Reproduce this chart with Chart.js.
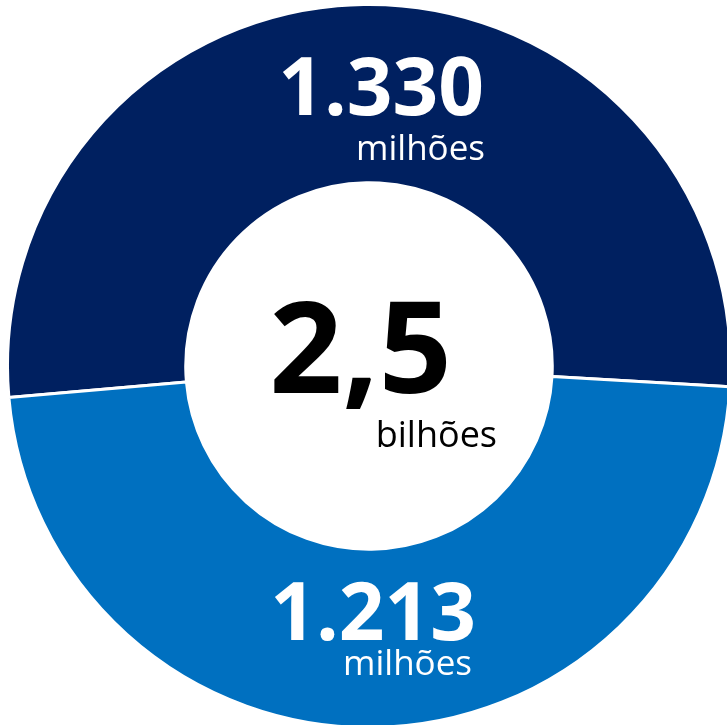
<!DOCTYPE html>
<html>
<head>
<meta charset="utf-8">
<script src="https://cdn.jsdelivr.net/npm/chart.js@4/dist/chart.umd.min.js"></script>
<style>
  html, body { margin: 0; padding: 0; background: #fff; overflow: hidden; width: 727px; height: 725px; }
  #wrap { position: absolute; left: 6px; top: 3px; width: 726px; height: 726px; }
</style>
</head>
<body>
<div id="wrap"><canvas id="graficoPopulacao"></canvas></div>
<script>
// valores em milhões
const categorias = ['Grupo A', 'Grupo B'];
const valores = [1330, 1213];
const cores = ['#002060', '#0070C0'];
const unidade = 'milhões';
const unidadeTotal = 'bilhões';

const formatarMil = v => String(v).replace(/\B(?=(\d{3})+(?!\d))/g, '.');
const total = valores.reduce((a, b) => a + b, 0);
const totalTexto = (total / 1000).toFixed(1).replace('.', ',');

// posições dos textos (coordenadas do canvas)
const rotulos = [
    { valor: [478, 112], unidade: [479, 157] },
    { valor: [470, 637], unidade: [466, 672] }
];

const textos = {
    id: 'textos',
    afterDraw(chart) {
        const c = chart.ctx;
        c.save();
        c.textAlign = 'right';
        c.textBaseline = 'alphabetic';
        c.fillStyle = '#fff';
        rotulos.forEach((r, i) => {
            c.font = 'bold 80px "Open Sans"';
            c.fillText(formatarMil(valores[i]), r.valor[0], r.valor[1]);
            c.font = '35px "Open Sans"';
            c.fillText(unidade, r.unidade[0], r.unidade[1]);
        });
        c.fillStyle = '#000';
        c.font = 'bold 128px "Open Sans"';
        c.fillText(totalTexto, 446, 390);
        c.font = '36px "Open Sans"';
        c.fillText(unidadeTotal, 491, 444);
        c.restore();
    }
};

new Chart(document.getElementById('graficoPopulacao'), {
    type: 'doughnut',
    data: {
        labels: categorias,
        datasets: [{
            data: valores,
            backgroundColor: cores,
            borderColor: '#fff',
            borderWidth: 3
        }]
    },
    options: {
        responsive: true,
        maintainAspectRatio: false,
        animation: false,
        rotation: -95,
        cutout: '50.7%',
        layout: { padding: 0 },
        plugins: { legend: { display: false }, tooltip: { enabled: false } }
    },
    plugins: [textos]
});
</script>
</body>
</html>
